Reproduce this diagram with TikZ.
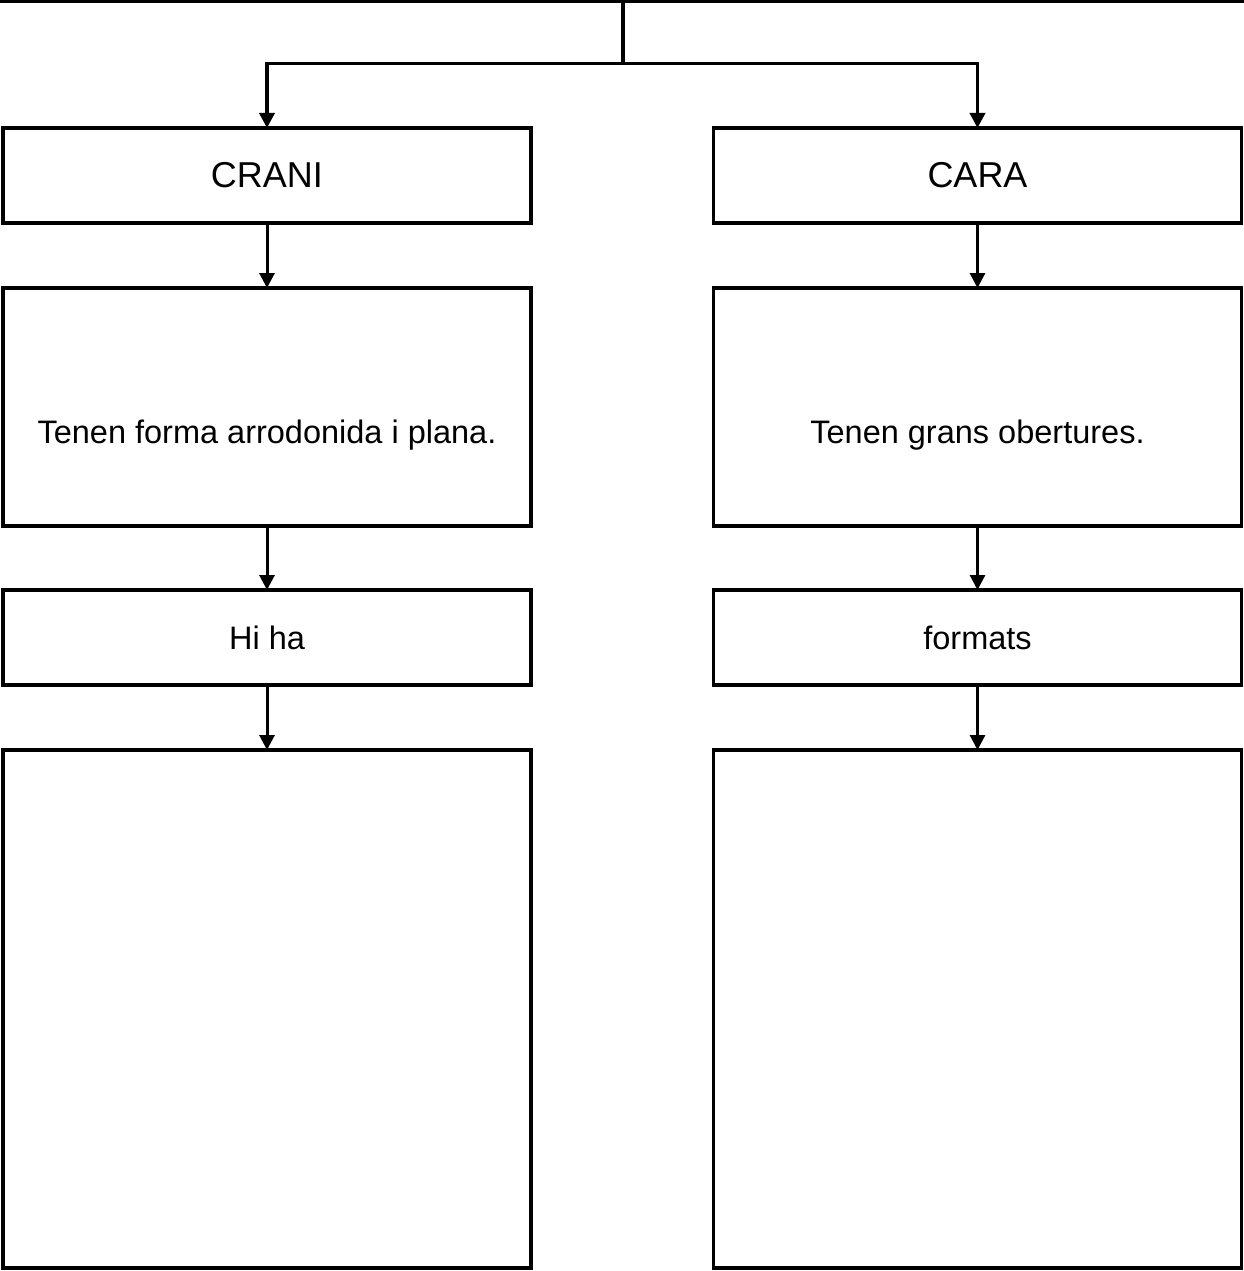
\documentclass[tikz,border=0pt]{standalone}
\usepackage{fontspec}
\setmainfont{Liberation Sans}
\usetikzlibrary{arrows.meta}

\tikzset{
  box/.style={draw,black,line width=3.5pt,inner sep=0pt,outer sep=0pt,minimum width=528pt},
  link/.style={black,line width=3pt,-{Triangle[length=15pt,width=15pt]}},
  bigtxt/.style={font=\fontsize{36}{42}\selectfont},
  smalltxt/.style={font=\fontsize{32.5}{38}\selectfont},
}

\begin{document}
\begin{tikzpicture}[x=1pt,y=-1pt]
  \useasboundingbox (0,0) rectangle (1244,1271);
  \pgfmathsetmacro\leftx{267}
  \pgfmathsetmacro\rightx{977.5}

% top line and split
  \coordinate (lineL) at (0,1.5);
  \coordinate (lineR) at (1244,1.5);
  \coordinate (top) at (623,1.5);
  \coordinate (split) at (623,63.5);
  \draw[line width=3.5pt] (lineL) -- (lineR);
  \draw[line width=3.5pt] (top) -- (split);

% left column: CRANI
  \node[box,bigtxt,minimum height=95pt] (crani) at (\leftx,175.5) {CRANI};
  \node[box,minimum height=238pt,
        label={[smalltxt,yshift=-28pt]center:Tenen forma arrodonida i plana.}] (cranitxt) at (\leftx,407) {};
  \node[box,smalltxt,minimum height=95pt] (hiha) at (\leftx,637.5) {Hi ha};
  \node[box,minimum height=518pt] (craniblank) at (\leftx,1009) {};

% right column: CARA
  \node[box,bigtxt,minimum height=95pt] (cara) at (\rightx,175.5) {CARA};
  \node[box,minimum height=238pt,
        label={[smalltxt,yshift=-28pt]center:Tenen grans obertures.}] (caratxt) at (\rightx,407) {};
  \node[box,smalltxt,minimum height=95pt] (formats) at (\rightx,637.5) {formats};
  \node[box,minimum height=518pt] (carablank) at (\rightx,1009) {};

% arrows
  \draw[link,line width=3.5pt] (split) -| (crani.north);
  \draw[link,line width=3.5pt] (split) -| (cara.north);
  \draw[link] (crani.south) -- (cranitxt.north);
  \draw[link] (cranitxt.south) -- (hiha.north);
  \draw[link] (hiha.south) -- (craniblank.north);
  \draw[link] (cara.south) -- (caratxt.north);
  \draw[link] (caratxt.south) -- (formats.north);
  \draw[link] (formats.south) -- (carablank.north);

\end{tikzpicture}
\end{document}
